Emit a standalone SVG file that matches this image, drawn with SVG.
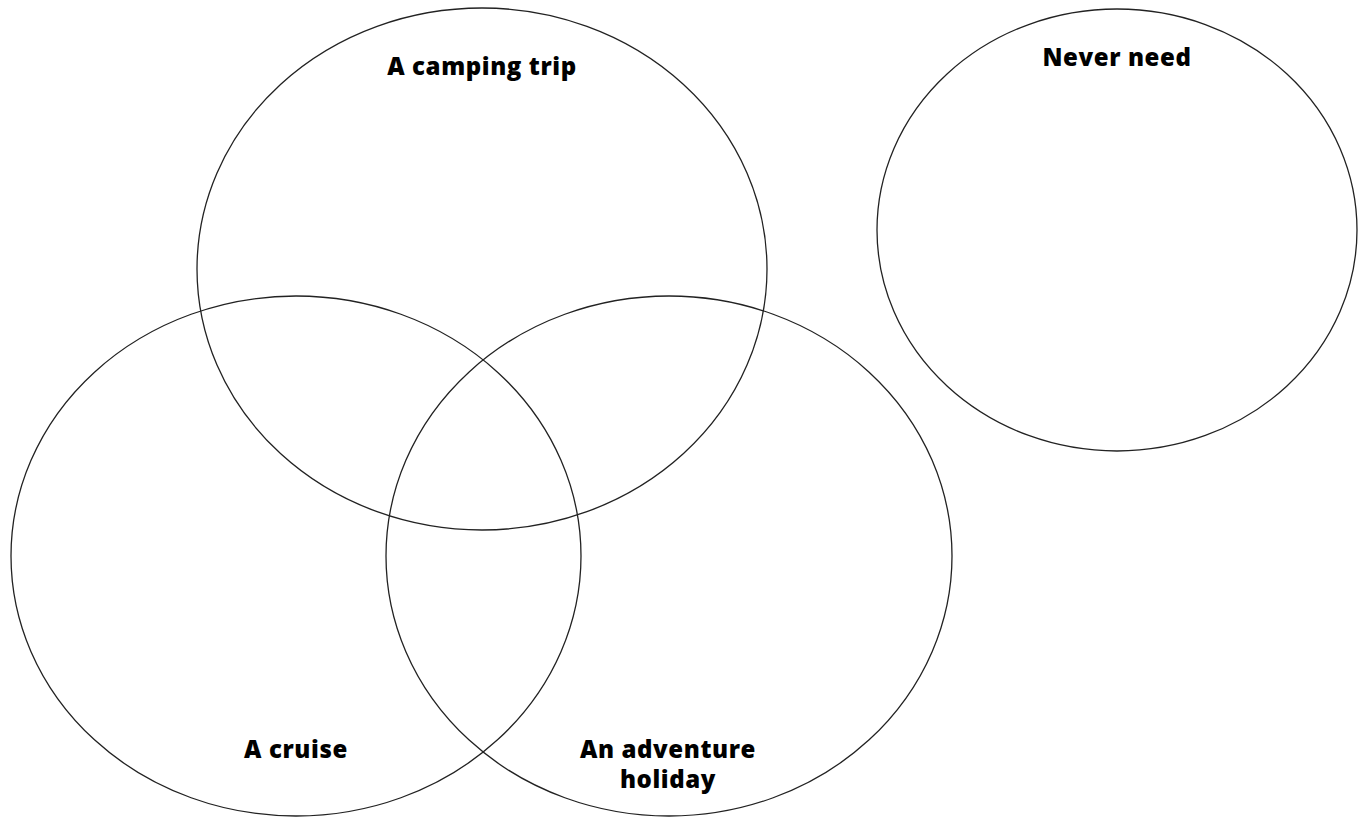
<svg xmlns="http://www.w3.org/2000/svg" width="1365" height="818" viewBox="0 0 1365 818">
<style>
.c{fill:none;stroke:#222;stroke-width:1.3}
.t{font-family:"Open Sans","Liberation Sans",sans-serif;font-weight:800;font-size:24px;letter-spacing:0.6px;fill:#000;text-anchor:middle}
</style>
<rect width="1365" height="818" fill="#fff"/>
<g id="camping"><ellipse class="c" cx="482" cy="269" rx="285" ry="261"/><text class="t" x="482" y="75">A camping trip</text></g>
<g id="cruise"><ellipse class="c" cx="296" cy="556" rx="285" ry="260"/><text class="t" x="296" y="758">A cruise</text></g>
<g id="adventure"><ellipse class="c" cx="669" cy="556" rx="283" ry="260"/><text class="t" x="668" y="758">An adventure</text><text class="t" x="668" y="788">holiday</text></g>
<g id="never"><ellipse class="c" cx="1117" cy="230" rx="240" ry="221"/><text class="t" x="1117" y="66">Never need</text></g>
<g id="connectors"/>
</svg>
